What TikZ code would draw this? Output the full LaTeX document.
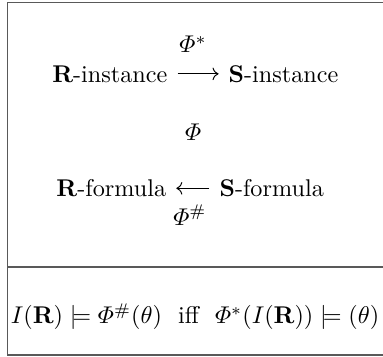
\documentclass[tikz,border=0pt]{standalone}
\usepackage{amsmath}
\usepackage{amssymb}
\usepackage{tikz}
\usetikzlibrary{
  arrows.meta,
  positioning
}

\begin{document}
\begin{tikzpicture}[
  x=1pt, y=1pt,
  frame/.style={draw=black!65, line width=0.6pt},
  obj/.style={anchor=base, inner sep=4pt},
  lbl/.style={anchor=base, inner sep=1pt},
  arr/.style={-{Computer Modern Rightarrow}, line width=0.4pt}
]
  \useasboundingbox (0,0) rectangle (158.3,-147.5);

  % Frame
  \draw[frame] (158.3,-1) -- (3.1,-1) -- (3.1,-146.7) -- (158.3,-146.7);
  \draw[frame] (3.1,-110.3) -- (158.3,-110.3);

  % Instances
  \node[lbl] (phistar) at (79.8,-21.9) {$\varPhi^*$};
  \node[obj] (rinst) at (45.4,-33.9) {$\mathbf{R}$-instance};
  \node[obj] (sinst) at (117.2,-33.9) {$\mathbf{S}$-instance};

  % Middle label
  \node[lbl] (phi) at (79.8,-57.9) {$\varPhi$};

  % Formulas
  \node[obj] (rform) at (46.0,-81.3) {$\mathbf{R}$-formula};
  \node[obj] (sform) at (112.3,-81.3) {$\mathbf{S}$-formula};
  \node[lbl] (phisharp) at (78.5,-93) {$\varPhi^{\#}$};

  % Arrows
  \draw[arr] (rinst) -- (sinst);
  \draw[arr] (sform) -- (rform);

  % Satisfaction condition
  \node[lbl] (law) at (80.6,-133.9) {$I(\mathbf{R}) \models \varPhi^{\#}(\theta)$\ \ iff\ \ $\varPhi^*(I(\mathbf{R})) \models (\theta)$};
\end{tikzpicture}
\end{document}
